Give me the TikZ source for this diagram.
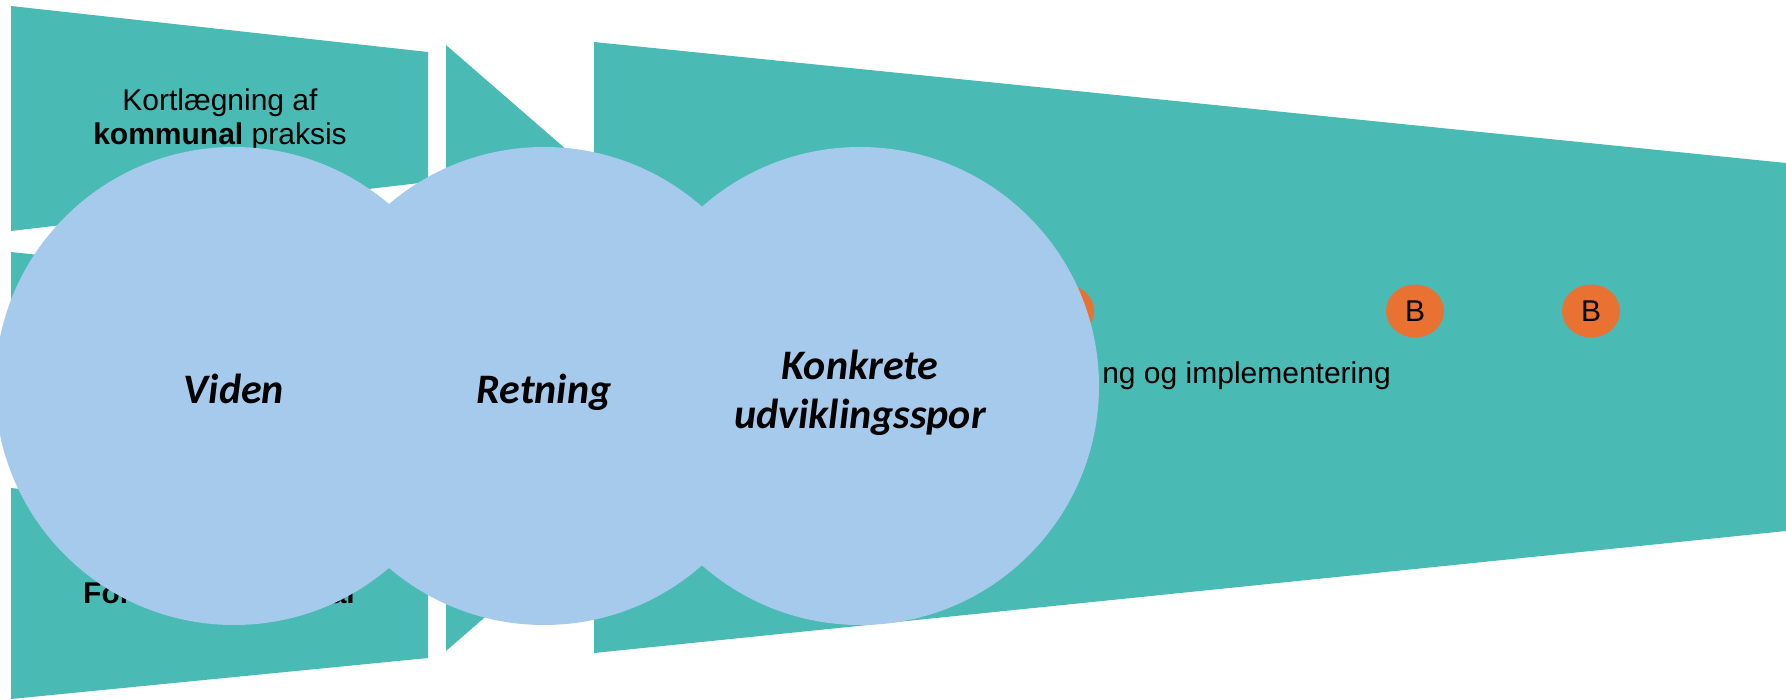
\documentclass[tikz,border=0pt]{standalone}
\usepackage{fontspec}
\setmainfont{Liberation Sans}
\newfontfamily\calfont{Carlito}
\usetikzlibrary{shapes.geometric}

\definecolor{funnelteal}{RGB}{74,186,180}
\definecolor{bubbleblue}{RGB}{166,202,236}
\definecolor{badgeorange}{RGB}{233,113,50}

\tikzset{
  seg/.style={fill=funnelteal,draw=none},
  bubble/.style={circle,fill=bubbleblue,minimum size=478pt,inner sep=0pt},
  badge/.style={ellipse,fill=badgeorange,minimum width=58pt,minimum height=53pt,inner sep=0pt,font=\fontsize{30}{36}\selectfont},
  smalltxt/.style={inner sep=0pt,font=\fontsize{30}{34}\selectfont},
  bigword/.style={inner sep=0pt,font=\calfont\bfseries\itshape\fontsize{42}{50}\selectfont}
}

\begin{document}
\begin{tikzpicture}[x=1pt,y=-1pt]
      \useasboundingbox (0,0) rectangle (1786,699);
      % left funnel pieces
      \fill[seg] (11,6) -- (428,52) -- (428,182) -- (11,231) -- cycle;
      \fill[seg] (11,252) -- (428,297) -- (428,422) -- (11,467) -- cycle;
      \fill[seg] (11,488) -- (428,533) -- (428,658) -- (11,699) -- cycle;
      \fill[seg] (446,45) -- (795,348) -- (446,651) -- cycle;
      \fill[seg] (594,42) -- (1786,163) -- (1786,531) -- (594,653) -- cycle;
      % badges
      \node[badge] (b0) at (1065,311) {};
      \node[badge] (b1) at (1415,311) {B};
      \node[badge] (b2) at (1591,311) {B};
      % texts
      \node[smalltxt,align=center,anchor=north] (kort) at (220,89) {Kortlægning af\\\textbf{kommunal} praksis};
      \node[smalltxt,anchor=base west] (fo) at (83,603) {\textbf{For}};
      \node[smalltxt,anchor=base east] (al) at (355,603) {\textbf{al}};
      \node[smalltxt,anchor=base east] (impl) at (1391,383) {ng og implementering};
      % circles
      \node[bubble] (c1) at (234,386) {};
      \node[bubble] (c2) at (544,386) {};
      \node[bubble] (c3) at (860,386) {};
      \node[bigword,anchor=base] (viden) at (234,403) {Viden};
      \node[bigword,anchor=base] (retning) at (544,403) {Retning};
      \node[bigword,anchor=base] (konk) at (860,379) {Konkrete};
      \node[bigword,anchor=base] (udv) at (860,428) {udviklingsspor};
\end{tikzpicture}
\end{document}
